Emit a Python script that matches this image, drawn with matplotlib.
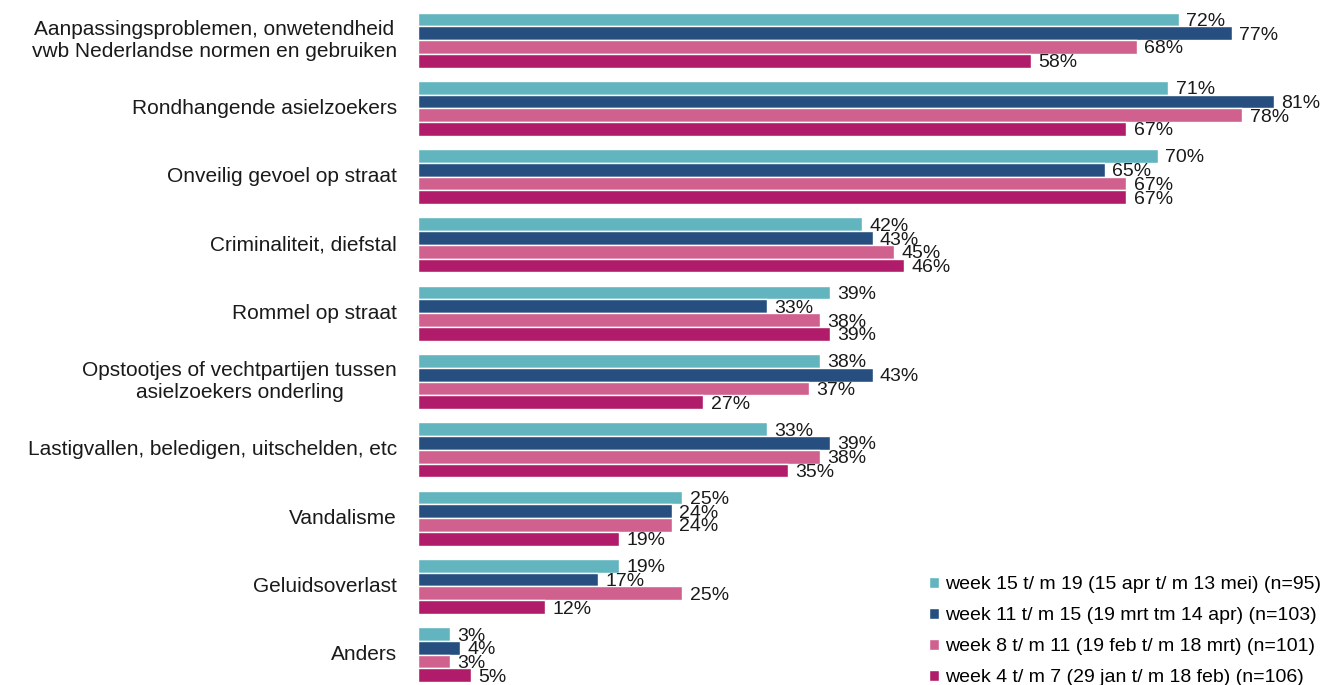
import matplotlib
matplotlib.use("Agg")
import matplotlib.pyplot as plt
import numpy as np

plt.rcParams['font.family'] = ['Liberation Sans', 'DejaVu Sans']

categories = [
    "Aanpassingsproblemen, onwetendheid\nvwb Nederlandse normen en gebruiken",
    "Rondhangende asielzoekers",
    "Onveilig gevoel op straat",
    "Criminaliteit, diefstal",
    "Rommel op straat",
    "Opstootjes of vechtpartijen tussen\nasielzoekers onderling",
    "Lastigvallen, beledigen, uitschelden, etc",
    "Vandalisme",
    "Geluidsoverlast",
    "Anders",
]
series_labels = [
    "week 15 t/ m 19 (15 apr t/ m 13 mei) (n=95)",
    "week 11 t/ m 15 (19 mrt tm 14 apr) (n=103)",
    "week 8 t/ m 11 (19 feb t/ m 18 mrt) (n=101)",
    "week 4 t/ m 7 (29 jan t/ m 18 feb) (n=106)",
]
week15_19 = [72, 71, 70, 42, 39, 38, 33, 25, 19, 3]
week11_15 = [77, 81, 65, 43, 33, 43, 39, 24, 17, 4]
week8_11 = [68, 78, 67, 45, 38, 37, 38, 24, 25, 3]
week4_7 = [58, 67, 67, 46, 39, 27, 35, 19, 12, 5]
series = [week15_19, week11_15, week8_11, week4_7]
colors = ["#62B5BF", "#264F80", "#D0608E", "#B01C6A"]

W, H = 1325, 685
fig = plt.figure(figsize=(W / 100, H / 100), dpi=100)
left_px = 418
ax = fig.add_axes([left_px / W, 0, 1 - left_px / W, 1])
px_per_pct = 10.57
ax.set_xlim(0, (W - left_px) / px_per_pct)
ax.set_ylim(H, 0)

group_pitch = 68.3
bar_pitch = 13.75
first_center = 12.5 + 2 * bar_pitch
centers = first_center + group_pitch * np.arange(len(categories))

handles = []
for j, (vals, col) in enumerate(zip(series, colors)):
    ys = centers + (j - 1.5) * bar_pitch
    b = ax.barh(ys, vals, height=bar_pitch, color=col, edgecolor="white",
                linewidth=1.0, label=series_labels[j])
    handles.append(b)
    for y, v in zip(ys, vals):
        ax.text(v + 0.7, y + 2, f"{v}%", ha="left", va="center",
                fontsize=14, color="#1a1a1a")

for c, lab in zip(centers, categories):
    ax.text(-2.0, c, lab, ha="right", va="center", multialignment="center",
            fontsize=15, color="#1a1a1a", linespacing=1.2)

ax.set_axis_off()

leg = fig.legend(handles=handles, labels=series_labels, loc="lower left",
                 bbox_to_anchor=(929 / W, -0.0015), frameon=False,
                 fontsize=14, handlelength=0.5, handleheight=0.5,
                 handletextpad=0.35, labelspacing=0.72,
                 borderpad=0, borderaxespad=0)

fig.savefig("out.png", dpi=100)
